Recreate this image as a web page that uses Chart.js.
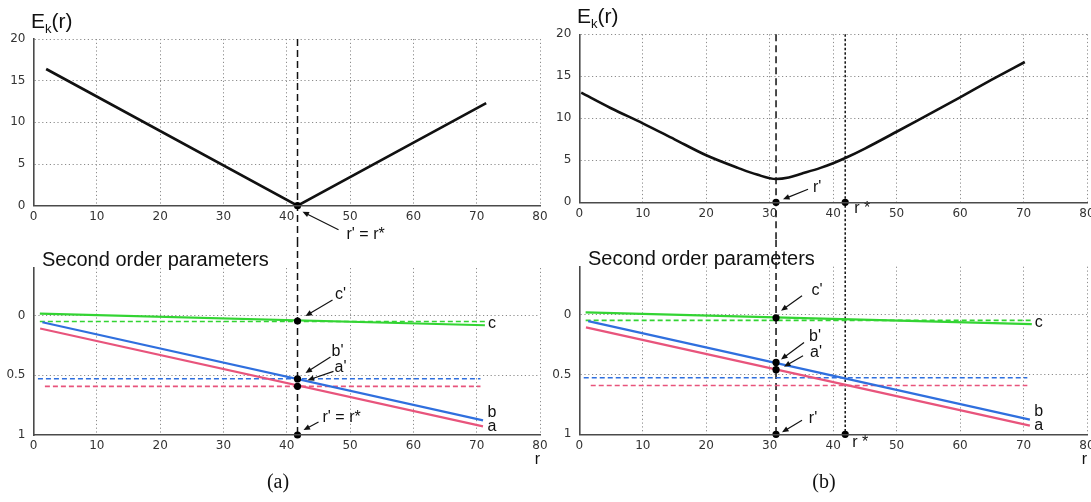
<!DOCTYPE html>
<html>
<head>
<meta charset="utf-8">
<script src="https://cdn.jsdelivr.net/npm/chart.js@4.4.1/dist/chart.umd.min.js"></script>
<style>
  body { margin: 0; width: 1091px; height: 502px; overflow: hidden; background: #fff; position: relative; font-family: "Liberation Sans", Arial, sans-serif; }
  .box { position: absolute; }
  .lbl { position: absolute; white-space: nowrap; color: #111; }
  .ek { font-size: 21px; line-height: 21px; }
  .ek sub { font-size: 13px; vertical-align: -5px; line-height: 0; }
  .sop { font-size: 20px; line-height: 20px; }
  .cap { font-family: "Liberation Serif", serif; font-size: 20px; line-height: 20px; transform: translateX(-50%); }
</style>
</head>
<body>
<div class="box" style="left:0;top:0;width:560px;height:240px"><canvas id="ekA"></canvas></div>
<div class="box" style="left:0;top:240px;width:560px;height:262px"><canvas id="parA"></canvas></div>
<div class="box" style="left:545px;top:0;width:565px;height:240px"><canvas id="ekB"></canvas></div>
<div class="box" style="left:545px;top:240px;width:565px;height:262px"><canvas id="parB"></canvas></div>

<div class="lbl ek" style="left:31px;top:10px">E<sub>k</sub>(r)</div>
<div class="lbl ek" style="left:577px;top:5px">E<sub>k</sub>(r)</div>
<div class="lbl sop" style="left:42px;top:249px">Second order parameters</div>
<div class="lbl sop" style="left:588px;top:248px">Second order parameters</div>
<div class="lbl cap" style="left:278px;top:471px">(a)</div>
<div class="lbl cap" style="left:824px;top:471px">(b)</div>

<script>
// axis ticks
const rTicks = [0, 10, 20, 30, 40, 50, 60, 70, 80];
const ekTicks = [0, 5, 10, 15, 20];
const paramTicks = [0, 0.5, 1];

// E_k(r) curves
const ekA_r = [2, 41.7, 71.5];
const ekA_v = [16.4, 0, 12.3];
const ekB_r = [0.3, 5, 10, 15, 20, 25, 28, 31, 33, 35, 38, 40, 42, 45, 50, 55, 60, 65, 70.2];
const ekB_v = [13.05, 11.2, 9.4, 7.5, 5.6, 4.1, 3.3, 2.77, 2.95, 3.4, 4.1, 4.65, 5.3, 6.4, 8.4, 10.45, 12.5, 14.6, 16.7];

// second order parameters (solid = estimate, dashed = true value)
const cR = [1, 71.3],     cSolid = [-0.018, 0.08];
const bR = [1.4, 71],     bSolid = [0.055, 0.878];
const aR = [1.05, 71],    aSolid = [0.107, 0.928];
const cDashR = [1, 71.3], cDash = [0.048, 0.048];
const bDashR = [0.7, 70.6], bDash = [0.528, 0.528];
const aDashR = [1.8, 70.6], aDash = [0.592, 0.592];

// r' and r*
const rStarA = 41.7;
const rPrimeB = 31;
const rStarB = 41.9;
// marked values c', b', a', r' on the r' line
const marksA = [0.045, 0.53, 0.592, 1];
const marksB = [0.027, 0.40, 0.46, 1];

const GREEN = '#33d433', BLUE = '#2f6fde', RED = '#e8547c';

const pts = (xs, ys) => xs.map((x, i) => ({ x, y: ys[i] }));
const lineDs = (xs, ys, color, width, dash, extra) => Object.assign({
  data: pts(xs, ys), showLine: true, borderColor: color, borderWidth: width,
  borderDash: dash || [], pointRadius: 0
}, extra || {});
const dotDs = (xs, ys) => ({
  data: pts(xs, ys), showLine: false, pointRadius: 3.6,
  pointBackgroundColor: '#000', pointBorderColor: '#000', pointBorderWidth: 0, clip: false
});

function drawArrow(ctx, x1, y1, x2, y2) {
  const ang = Math.atan2(y2 - y1, x2 - x1), h = 6.5, w = 2.8;
  const c = Math.cos(ang), s = Math.sin(ang);
  ctx.beginPath(); ctx.moveTo(x1, y1); ctx.lineTo(x2 - h * c * 0.6, y2 - h * s * 0.6); ctx.stroke();
  ctx.beginPath(); ctx.moveTo(x2, y2);
  ctx.lineTo(x2 - h * c + w * s, y2 - h * s - w * c);
  ctx.lineTo(x2 - h * c - w * s, y2 - h * s + w * c);
  ctx.closePath(); ctx.fill();
}

// vertical markers, arrows and text labels, placed with the chart's own scales
const marksPlugin = {
  id: 'marks',
  beforeDatasetsDraw(chart, args, opts) {
    const { ctx, chartArea, scales: { x, y } } = chart;
    ctx.save();
    ctx.strokeStyle = '#111'; ctx.lineWidth = 1.5;
    (opts.vlines || []).forEach(v => {
      const px = x.getPixelForValue(v.x);
      const y0 = v.fromCanvas ? 0 : chartArea.top;
      const y1 = v.toValue !== undefined ? y.getPixelForValue(v.toValue) : chart.height;
      ctx.setLineDash(v.dash);
      ctx.beginPath(); ctx.moveTo(px, y0); ctx.lineTo(px, y1); ctx.stroke();
    });
    ctx.restore();
  },
  afterDatasetsDraw(chart, args, opts) {
    const { ctx, scales: { x, y } } = chart;
    ctx.save();
    ctx.strokeStyle = '#111'; ctx.fillStyle = '#111'; ctx.lineWidth = 1.2;
    (opts.arrows || []).forEach(a => {
      const px = x.getPixelForValue(a.x), py = y.getPixelForValue(a.y);
      drawArrow(ctx, px + a.from[0], py + a.from[1], px + a.to[0], py + a.to[1]);
    });
    ctx.font = '16px "Liberation Sans", Arial, sans-serif';
    ctx.textBaseline = 'middle';
    (opts.labels || []).forEach(l => {
      ctx.textAlign = l.align || 'center';
      ctx.fillText(l.text, x.getPixelForValue(l.x) + (l.dx || 0), y.getPixelForValue(l.y) + (l.dy || 0));
    });
    ctx.restore();
  }
};

const tickFont = { family: 'DejaVu Sans', size: 12 };
// solid axis line on top; its dash setting is what Chart.js uses for the grid lines
const borderOpts = { color: '#4a4a4a', width: 1.6, dash: [1.2, 2.6], z: 1 };
// dotted grid, skipped where it would sit on the solid axis line
const gridAt = axisValue => ({
  color: c => (c.tick && c.tick.value === axisValue) ? 'rgba(0,0,0,0)' : '#8c8c8c',
  lineWidth: 1, drawTicks: false
});

function makeScales(yTicks, yMin, yMax, reverse, yW, xH, withTitle) {
  return {
    x: {
      type: 'linear', min: 0, max: 80,
      afterBuildTicks: s => { s.ticks = rTicks.map(v => ({ value: v })); },
      afterFit: s => { s.height = xH; },
      grid: gridAt(0), border: borderOpts,
      ticks: { padding: 4, color: '#333', font: tickFont, maxRotation: 0, callback: v => String(v) },
      title: withTitle
        ? { display: true, text: 'r', align: 'end', color: '#111', padding: 0, font: { family: 'Liberation Sans', size: 16 } }
        : { display: false }
    },
    y: {
      type: 'linear', min: yMin, max: yMax, reverse,
      afterBuildTicks: s => { s.ticks = yTicks.map(v => ({ value: v })); },
      afterFit: s => { s.width = yW; },
      grid: gridAt(reverse ? yMax : yMin), border: borderOpts,
      ticks: { padding: 8, color: '#333', font: tickFont, callback: v => String(v) }
    }
  };
}

function makeChart(id, datasets, scales, marks, padding) {
  return new Chart(document.getElementById(id), {
    type: 'scatter',
    data: { datasets },
    options: {
      responsive: true, maintainAspectRatio: false, animation: false, events: [],
      layout: { padding },
      plugins: { legend: { display: false }, tooltip: { enabled: false }, marks },
      scales
    },
    plugins: [marksPlugin]
  });
}

function paramSets(rMark, marks, extraR) {
  const dotsR = marks.map(() => rMark);
  const sets = [dotDs(dotsR, marks)];
  if (extraR !== undefined) sets.push(dotDs([extraR], [1]));
  sets.push(
    lineDs(cR, cSolid, GREEN, 2.2),
    lineDs(bR, bSolid, BLUE, 2.2),
    lineDs(aR, aSolid, RED, 2.2),
    lineDs(cDashR, cDash, GREEN, 1.6, [5, 3]),
    lineDs(bDashR, bDash, BLUE, 1.6, [5, 3]),
    lineDs(aDashR, aDash, RED, 1.6, [5, 3])
  );
  return sets;
}

const endLabels = [
  { x: 72.4, y: 0.066, text: 'c' },
  { x: 72.4, y: 0.81, text: 'b' },
  { x: 72.4, y: 0.93, text: 'a' }
];

// (a) top
makeChart('ekA',
  [dotDs([rStarA], [0]), lineDs(ekA_r, ekA_v, '#111', 2.6)],
  makeScales(ekTicks, 0, 20, false, 33.5, 34.3, false),
  {
    vlines: [{ x: rStarA, dash: [7, 4] }],
    arrows: [{ x: rStarA, y: 0, from: [41, 24], to: [5, 6] }],
    labels: [{ x: rStarA, y: 0, dx: 49, dy: 29, text: "r' = r*", align: 'left' }]
  },
  { left: 0, right: 20, top: 39, bottom: 0 });

// (a) bottom
makeChart('parA',
  paramSets(rStarA, marksA),
  makeScales(paramTicks, -0.4, 1, true, 33.5, 34.6, true),
  {
    vlines: [{ x: rStarA, dash: [7, 4], fromCanvas: true, toValue: 1 }],
    arrows: [
      { x: rStarA, y: marksA[0], from: [35, -21], to: [8, -5] },
      { x: rStarA, y: marksA[1], from: [33, -22], to: [8, -6] },
      { x: rStarA, y: marksA[2], from: [36, -15], to: [10, -6] },
      { x: rStarA, y: marksA[3], from: [21, -13], to: [6, -5] }
    ],
    labels: [
      { x: rStarA, y: marksA[0], dx: 43, dy: -26, text: "c'" },
      { x: rStarA, y: marksA[1], dx: 40, dy: -27, text: "b'" },
      { x: rStarA, y: marksA[2], dx: 43, dy: -19, text: "a'" },
      { x: rStarA, y: marksA[3], dx: 25, dy: -17, text: "r' = r*", align: 'left' }
    ].concat(endLabels)
  },
  { left: 0, right: 20, top: 28, bottom: 32.4 });

// (b) top
makeChart('ekB',
  [dotDs([rPrimeB, rStarB], [0, 0]),
   lineDs(ekB_r, ekB_v, '#111', 2.6, [], { cubicInterpolationMode: 'monotone' })],
  makeScales(ekTicks, 0, 20, false, 34.3, 37.7, false),
  {
    vlines: [{ x: rPrimeB, dash: [7, 4] }, { x: rStarB, dash: [2.5, 2] }],
    arrows: [{ x: rPrimeB, y: 0, from: [32, -13], to: [7, -3] }],
    labels: [
      { x: rPrimeB, y: 0, dx: 37, dy: -15, text: "r'", align: 'left' },
      { x: rStarB, y: 0, dx: 9, dy: 6, text: 'r *', align: 'left' }
    ]
  },
  { left: 0, right: 23, top: 34.3, bottom: 0 });

// (b) bottom
makeChart('parB',
  paramSets(rPrimeB, marksB, rStarB),
  makeScales(paramTicks, -0.4, 1, true, 34.3, 35.3, true),
  {
    vlines: [
      { x: rPrimeB, dash: [7, 4], fromCanvas: true, toValue: 1 },
      { x: rStarB, dash: [2.5, 2], fromCanvas: true, toValue: 1 }
    ],
    arrows: [
      { x: rPrimeB, y: marksB[0], from: [26, -22], to: [5, -7] },
      { x: rPrimeB, y: marksB[1], from: [28, -20], to: [5, -3] },
      { x: rPrimeB, y: marksB[2], from: [27, -14], to: [8, -3] },
      { x: rPrimeB, y: marksB[3], from: [26, -14], to: [6, -2] }
    ],
    labels: [
      { x: rPrimeB, y: marksB[0], dx: 41, dy: -27, text: "c'" },
      { x: rPrimeB, y: marksB[1], dx: 39, dy: -26, text: "b'" },
      { x: rPrimeB, y: marksB[2], dx: 40, dy: -17, text: "a'" },
      { x: rPrimeB, y: marksB[3], dx: 37, dy: -16, text: "r'" },
      { x: rStarB, y: 1, dx: 7, dy: 8, text: 'r *', align: 'left' }
    ].concat(endLabels)
  },
  { left: 0, right: 23, top: 26.7, bottom: 32.4 });
</script>
</body>
</html>
